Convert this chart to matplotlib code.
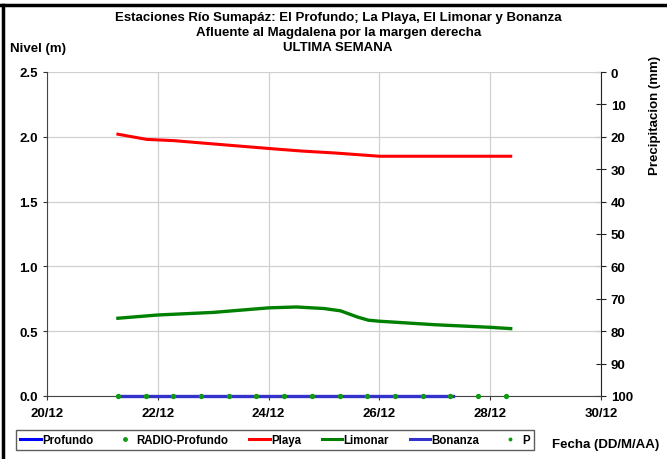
import matplotlib.pyplot as plt
from matplotlib.lines import Line2D

plt.rcParams["font.family"] = ["Liberation Sans", "DejaVu Sans"]
plt.rcParams["font.weight"] = "bold"

# days from 20/12
playa_x = [1.28, 1.8, 2.3, 3.0, 4.0, 4.6, 5.2, 6.0, 7.0, 8.37]
playa_y = [2.02, 1.98, 1.97, 1.945, 1.91, 1.89, 1.875, 1.85, 1.85, 1.85]

limonar_x = [1.28, 2.0, 3.0, 4.0, 4.5, 5.0, 5.3, 5.6, 5.8, 6.0, 7.0, 8.0, 8.37]
limonar_y = [0.60, 0.625, 0.645, 0.68, 0.687, 0.675, 0.657, 0.61, 0.585, 0.577, 0.55, 0.53, 0.52]

bonanza_x = [1.28, 7.33]
bonanza_y = [0.0, 0.0]

radio_x = [1.28, 1.78, 2.28, 2.78, 3.28, 3.78, 4.28, 4.78, 5.28, 5.78, 6.28, 6.78, 7.28, 7.78, 8.28]
radio_y = [0.0] * len(radio_x)

xtick_days = [0, 2, 4, 6, 8, 10]
xtick_labels = ["20/12", "22/12", "24/12", "26/12", "28/12", "30/12"]
ytick_vals = [0.0, 0.5, 1.0, 1.5, 2.0, 2.5]
precip_ticks = [0, 10, 20, 30, 40, 50, 60, 70, 80, 90, 100]


def main():
    fig = plt.figure(figsize=(6.67, 4.60), dpi=100)
    ax = fig.add_axes([47 / 667, 1 - 397 / 460, (601 - 47) / 667, (397 - 73) / 460])

    ax.set_xlim(0, 10)
    ax.set_ylim(0, 2.5)
    ax.set_xticks(xtick_days)
    ax.set_xticklabels(xtick_labels)
    ax.set_yticks(ytick_vals)
    ax.set_yticklabels([f"{v:.1f}" for v in ytick_vals])
    ax.grid(True, color="#d0d0d0", lw=0.9)
    ax.set_axisbelow(True)
    ax.tick_params(labelsize=9.5, length=3, color="#333333")
    ax.tick_params(axis="x", direction="out", pad=5)
    for lab in ax.get_xticklabels() + ax.get_yticklabels():
        lab.set_fontweight("bold")
    ax.spines["top"].set_visible(False)
    ax.spines["right"].set_visible(False)
    ax.spines["left"].set_color("#444444")
    ax.spines["bottom"].set_color("#444444")

    ax2 = ax.twinx()
    ax2.set_ylim(100, 0)
    ax2.set_yticks(precip_ticks)
    ax2.tick_params(labelsize=9.5, direction="inout", length=7, color="#222222")
    for lab in ax2.get_yticklabels():
        lab.set_fontweight("bold")
    for s in ["top", "left", "bottom"]:
        ax2.spines[s].set_visible(False)
    ax2.spines["right"].set_color("#222222")

    # series drawn on the level axis, above the twin
    ax.set_zorder(ax2.get_zorder() + 1)
    ax.patch.set_visible(False)
    ax.plot(bonanza_x, bonanza_y, color="#3333cc", lw=2.4, zorder=5, clip_on=False)
    ax.plot(radio_x, radio_y, ls="none", marker="o", ms=2.8, color="#119911",
            zorder=6, clip_on=False)
    ax.plot(playa_x, playa_y, color="#ff0000", lw=2.2, zorder=3)
    ax.plot(limonar_x, limonar_y, color="#008000", lw=2.4, zorder=3)

    fig.text(0.507, 1 - 18 / 460, "Estaciones Río Sumapáz: El Profundo; La Playa, El Limonar y Bonanza",
             ha="center", va="center", fontsize=9.5, fontweight="bold")
    fig.text(0.507, 1 - 33 / 460, "Afluente al Magdalena por la margen derecha",
             ha="center", va="center", fontsize=9.5, fontweight="bold")
    fig.text(0.507, 1 - 48 / 460, "ULTIMA SEMANA",
             ha="center", va="center", fontsize=9.5, fontweight="bold")
    fig.text(10 / 667, 1 - 49 / 460, "Nivel (m)", ha="left", va="center",
             fontsize=9.5, fontweight="bold")
    fig.text(655 / 667, 1 - 115 / 460, "Precipitacion (mm)", ha="center", va="center",
             rotation=90, fontsize=9.5, fontweight="bold")
    fig.text(552 / 667, 1 - 445 / 460, "Fecha (DD/M/AA)", ha="left", va="center",
             fontsize=9.5, fontweight="bold")

    handles = [
        Line2D([], [], color="#0000ff", lw=2.2),
        Line2D([], [], ls="none", marker="o", ms=2.5, color="#119911"),
        Line2D([], [], color="#ff0000", lw=2.2),
        Line2D([], [], color="#008000", lw=2.2),
        Line2D([], [], color="#3333cc", lw=2.2),
        Line2D([], [], ls="none", marker="o", ms=1.8, color="#119911"),
    ]
    labels = ["Profundo", "RADIO-Profundo", "Playa", "Limonar", "Bonanza", "P"]
    leg = fig.legend(handles, labels, loc="center", ncol=6,
                     bbox_to_anchor=(275 / 667, 1 - 441 / 460),
                     frameon=True, fancybox=False, edgecolor="#333333",
                     fontsize=8.3, handlelength=1.8, handletextpad=0.1,
                     columnspacing=1.8, borderpad=0.35, borderaxespad=0)
    leg.get_frame().set_linewidth(1.0)
    for t in leg.get_texts():
        t.set_fontweight("bold")

    # outer frame
    fig.add_artist(Line2D([0, 1], [1 - 6 / 460, 1 - 6 / 460], color="black", lw=2.5,
                          transform=fig.transFigure))
    fig.add_artist(Line2D([3 / 667, 3 / 667], [0, 1 - 6 / 460], color="black", lw=2.5,
                          transform=fig.transFigure))

    fig.savefig("out.png", dpi=100)


if __name__ == "__main__":
    main()
